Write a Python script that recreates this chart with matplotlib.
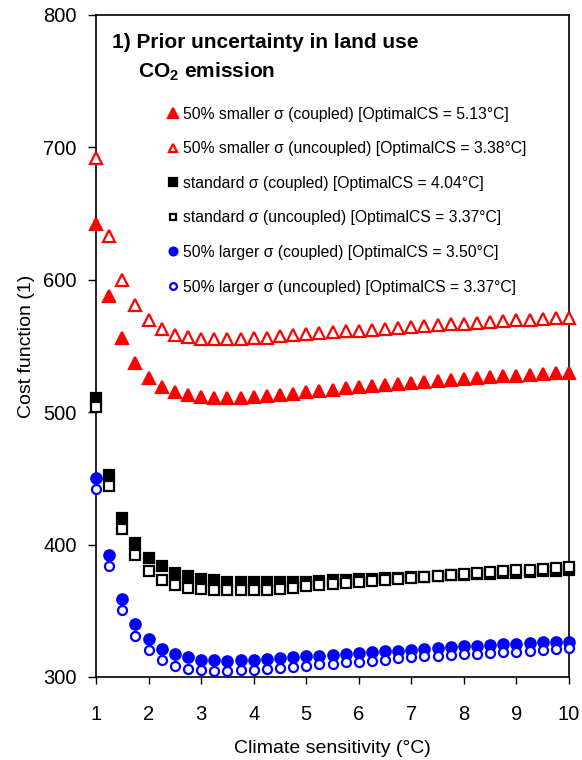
import numpy as np
import matplotlib
matplotlib.use("Agg")
import matplotlib.pyplot as plt

plt.rcParams["font.family"] = ["Liberation Sans", "DejaVu Sans"]
plt.rcParams["mathtext.fontset"] = "custom"
plt.rcParams["mathtext.rm"] = "Liberation Sans"
plt.rcParams["mathtext.bf"] = "Liberation Sans:bold"

# climate sensitivity grid (°C)
cs = np.arange(1.0, 10.001, 0.25)

small_coupled = [642, 588, 556, 537, 526, 519, 515, 513, 511.5, 510.8, 510.5, 511, 511.5,
                 512, 513, 514, 515, 516, 517, 518, 518.8, 519.6, 520.4, 521.2, 522,
                 522.8, 523.5, 524.2, 524.9, 525.6, 526.3, 527, 527.6, 528.2, 528.8,
                 529.3, 529.8]
small_uncoupled = [692, 633, 600, 581, 570, 563, 558.5, 556.5, 555.5, 555, 555, 555.3,
                   555.8, 556.4, 557.2, 558, 558.8, 559.6, 560.3, 561, 561.7, 562.4,
                   563.1, 563.8, 564.5, 565.1, 565.7, 566.3, 566.9, 567.5, 568.1, 568.7,
                   569.3, 569.8, 570.3, 570.8, 571.3]
std_coupled = [510.5, 452.6, 420.4, 401, 389.7, 383.5, 378.4, 376.4, 373.9, 372.9, 371.9,
               371.6, 371.6, 371.4, 371.5, 371.8, 372.1, 372.5, 372.9, 373.3, 373.7,
               374.1, 374.5, 374.9, 375.4, 375.8, 376.2, 376.7, 377.1, 377.5, 377.9,
               378.4, 378.8, 379.3, 379.8, 380.3, 380.8]
std_uncoupled = [504, 444.3, 411.6, 392.2, 380.2, 373.4, 369.6, 367.1, 366.1, 365.6, 365.4,
                 365.4, 365.6, 365.9, 366.4, 367.1, 368.5, 369.3, 370.1, 370.9, 371.7,
                 372.5, 373.3, 374.1, 374.9, 375.6, 376.3, 377, 377.7, 378.4, 379.1,
                 379.8, 380.5, 381.1, 381.7, 382.3, 382.9]
large_coupled = [450.6, 392, 358.8, 340, 328.7, 321.1, 317.3, 314.8, 313, 312.5, 312.3,
                 312.8, 313, 313.5, 314.1, 314.8, 315.6, 316.2, 316.8, 317.4, 318.1,
                 318.7, 319.4, 320, 320.6, 321.1, 321.6, 322.3, 323.1, 323.6, 324.1,
                 324.6, 325.1, 325.6, 326.1, 326.3, 326.6]
large_uncoupled = [442.3, 383.7, 350.5, 331.2, 320.2, 312.8, 308.5, 306, 305.3, 304.5,
                   304.3, 305, 305.3, 306, 306.8, 307.5, 308.5, 309.5, 310, 311, 311.5,
                   312.3, 313, 314.1, 314.8, 315.6, 316, 316.6, 317.1, 317.6, 318.1,
                   318.6, 319.1, 319.6, 320.4, 321.1, 322.1]

labels = [
    "50% smaller σ (coupled) [OptimalCS = 5.13°C]",
    "50% smaller σ (uncoupled) [OptimalCS = 3.38°C]",
    "standard σ (coupled) [OptimalCS = 4.04°C]",
    "standard σ (uncoupled) [OptimalCS = 3.37°C]",
    "50% larger σ (coupled) [OptimalCS = 3.50°C]",
    "50% larger σ (uncoupled) [OptimalCS = 3.37°C]",
]

RED, BLUE, BLACK = "#FF0000", "#0000FF", "#000000"
series = [
    (small_coupled, "^", RED, RED, 9),
    (small_uncoupled, "^", "white", RED, 8),
    (std_coupled, "s", BLACK, BLACK, 7.5),
    (std_uncoupled, "s", "white", BLACK, 6.5),
    (large_coupled, "o", BLUE, BLUE, 7.5),
    (large_uncoupled, "o", "white", BLUE, 6.5),
]

fig = plt.figure(figsize=(5.82, 7.6), dpi=100)
ax = fig.add_axes([96 / 582, 1 - 677 / 760, 473 / 582, 662 / 760])

handles = []
for vals, mk, fc, ec, ms in series:
    h, = ax.plot(cs, vals, linestyle="none", marker=mk, markersize=ms,
                 markerfacecolor=fc, markeredgecolor=ec, markeredgewidth=1.6,
                 clip_on=False, zorder=3)
    handles.append(h)

ax.set_xlim(1, 10)
ax.set_ylim(300, 800)
ax.set_xticks(range(1, 11))
ax.set_yticks(range(300, 801, 100))
ax.tick_params(axis="both", direction="out", labelsize=14.5, width=1)
ax.tick_params(axis="x", length=5, pad=15)
ax.tick_params(axis="y", length=6, pad=8)
for s in ax.spines.values():
    s.set_linewidth(1.2)

ax.set_xlabel("Climate sensitivity (°C)", fontsize=14, labelpad=12)
ax.set_ylabel("Cost function (1)", fontsize=14, labelpad=6)

fig.text(112 / 582, 1 - 43 / 760, "1) Prior uncertainty in land use",
         fontsize=15, fontweight="bold", va="center")
fig.text(138 / 582, 1 - 72 / 760, r"CO$_\mathbf{2}$ emission",
         fontsize=15, fontweight="bold", va="center")

ax.legend(handles, labels, loc="upper left", bbox_to_anchor=(165.5 / 582, 1 - 106.5 / 760),
          bbox_transform=fig.transFigure, frameon=False, fontsize=11.3, numpoints=1,
          handlelength=0.9, handletextpad=0.22, labelspacing=1.25, borderpad=0,
          borderaxespad=0, markerscale=0.75)

fig.savefig("out.png", dpi=100)
